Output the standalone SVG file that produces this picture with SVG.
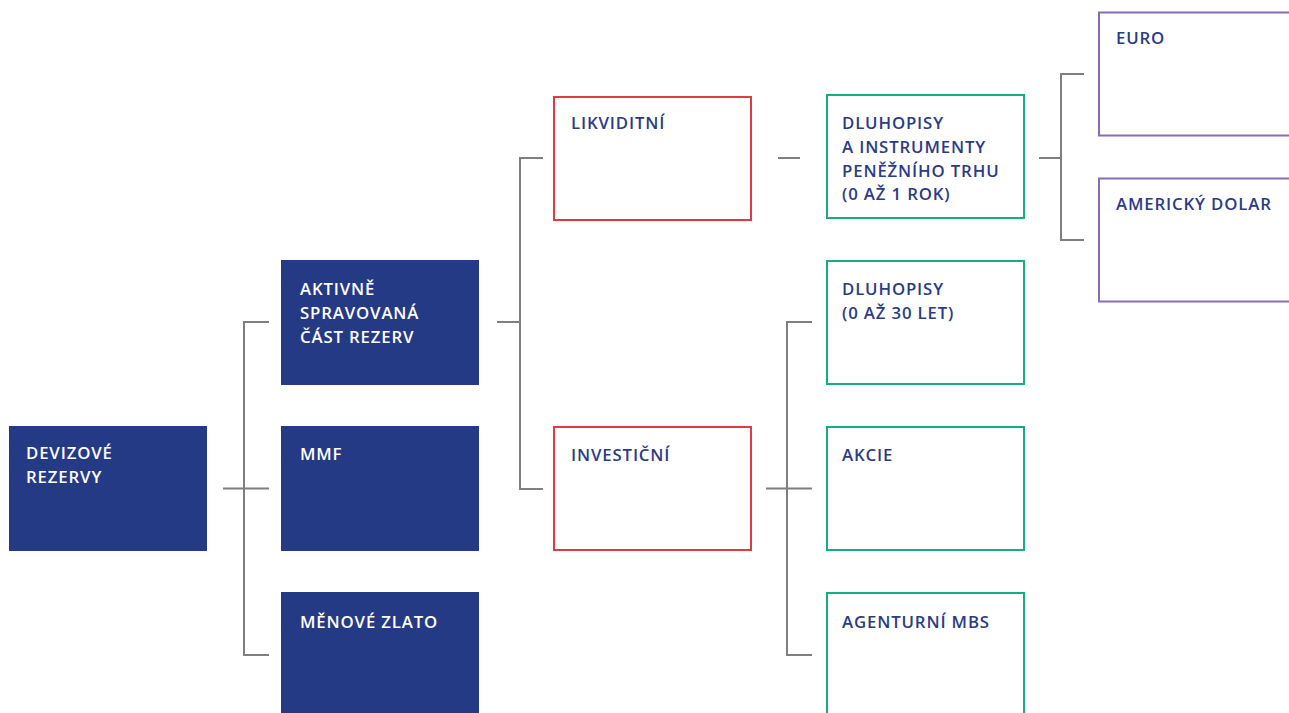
<svg xmlns="http://www.w3.org/2000/svg" width="1289" height="713" viewBox="0 0 1289 713">
<style>
.dark{fill:#253a85}
.red{fill:#fff;stroke:#e03a46;stroke-width:2}
.green{fill:#fff;stroke:#14ad86;stroke-width:2}
.purple{fill:#fff;stroke:#8a6cb6;stroke-width:2}
.conn{fill:none;stroke:#7f7f80;stroke-width:2}
text{font-family:"Open Sans","Liberation Sans",sans-serif;font-size:16.8px;font-weight:600;letter-spacing:0.85px}
.w{fill:#ffffff}
.b{fill:#2b3b86}
</style>
<rect width="1289" height="713" fill="#fff"/>
<g id="connectors">
<path class="conn" d="M223 488.5H244M269 322H244V655H269M244 488.5H269"/>
<path class="conn" d="M497 322H520M543 158H520V489H543"/>
<path class="conn" d="M778 158H800"/>
<path class="conn" d="M766 488.5H812M812 322H787V655H812"/>
<path class="conn" d="M1039 158H1061M1084 74H1061V240H1084"/>
</g>
<g id="devizove-rezervy">
<rect class="dark" x="9" y="426" width="198" height="125"/>
<text class="w" x="26" y="459">DEVIZOVÉ</text>
<text class="w" x="26" y="483">REZERVY</text>
</g>
<g id="aktivne">
<rect class="dark" x="281" y="260" width="198" height="125"/>
<text class="w" x="300" y="295">AKTIVNĚ</text>
<text class="w" x="300" y="319">SPRAVOVANÁ</text>
<text class="w" x="300" y="343">ČÁST REZERV</text>
</g>
<g id="mmf">
<rect class="dark" x="281" y="426" width="198" height="125"/>
<text class="w" x="300" y="460">MMF</text>
</g>
<g id="menove-zlato">
<rect class="dark" x="281" y="592" width="198" height="130"/>
<text class="w" x="300" y="628">MĚNOVÉ ZLATO</text>
</g>
<g id="likviditni">
<rect class="red" x="554" y="97" width="197" height="123"/>
<text class="b" x="571" y="128.5">LIKVIDITNÍ</text>
</g>
<g id="investicni">
<rect class="red" x="554" y="427" width="197" height="123"/>
<text class="b" x="571" y="461">INVESTIČNÍ</text>
</g>
<g id="dluhopisy-penezni">
<rect class="green" x="827" y="95" width="197" height="123"/>
<text class="b" x="842" y="128.5">DLUHOPISY</text>
<text class="b" x="842" y="152.5">A INSTRUMENTY</text>
<text class="b" x="842" y="176.5">PENĚŽNÍHO TRHU</text>
<text class="b" x="842" y="200">(0 AŽ 1 ROK)</text>
</g>
<g id="dluhopisy-30">
<rect class="green" x="827" y="261" width="197" height="123"/>
<text class="b" x="842" y="295">DLUHOPISY</text>
<text class="b" x="842" y="319">(0 AŽ 30 LET)</text>
</g>
<g id="akcie">
<rect class="green" x="827" y="427" width="197" height="123"/>
<text class="b" x="842" y="460.5">AKCIE</text>
</g>
<g id="agenturni-mbs">
<rect class="green" x="827" y="593" width="197" height="130"/>
<text class="b" x="842" y="628">AGENTURNÍ MBS</text>
</g>
<g id="euro">
<rect class="purple" x="1099" y="12.5" width="250" height="123"/>
<text class="b" x="1116" y="43.5">EURO</text>
</g>
<g id="americky-dolar">
<rect class="purple" x="1099" y="178.5" width="250" height="123"/>
<text class="b" x="1116" y="210">AMERICKÝ DOLAR</text>
</g>
</svg>
